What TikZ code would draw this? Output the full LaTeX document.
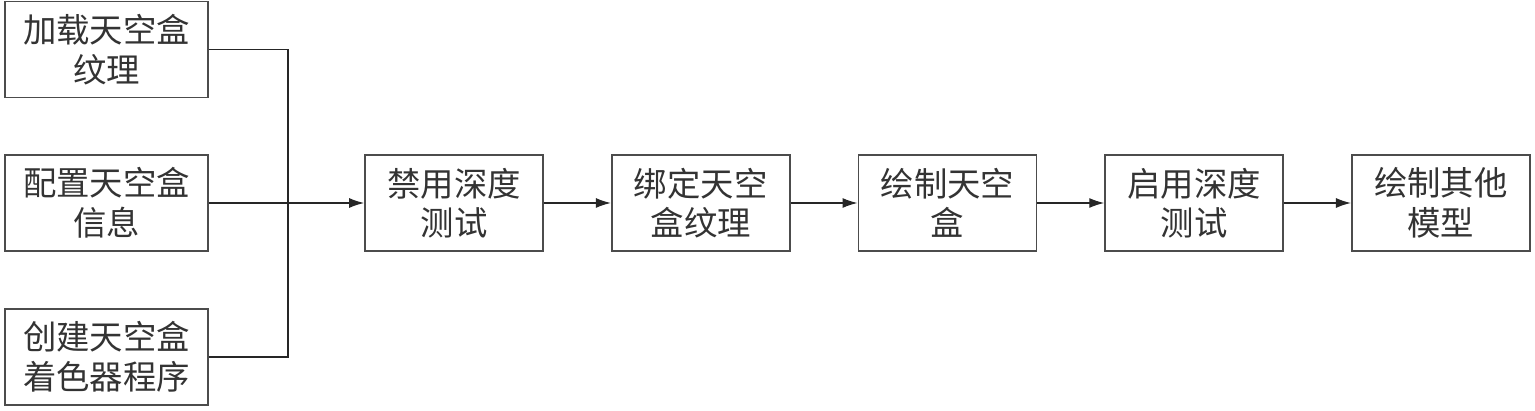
\documentclass[tikz,border=0pt]{standalone}
\usepackage{fontspec}
\setmainfont{Noto Sans CJK SC}
\usetikzlibrary{positioning,arrows.meta}
\tikzstyle{box} = [draw=black!70, line width=0.35mm, minimum width=3.56cm, minimum height=1.92cm, inner sep=0pt, align=center, font=\fontsize{19}{22.5}\selectfont, text=black!80]
\tikzstyle{sidebox} = [box, minimum width=4.06cm]
\tikzstyle{connector} = [line width=0.25mm, black!85]

\begin{document}
\begin{tikzpicture}[x=0.02cm, y=-0.02cm]
                \useasboundingbox (0,0) rectangle (1535,411);
                \node (load) [sidebox] at (106.5,49.5) {加载天空盒\\纹理};
                \node (config) [sidebox] at (106.5,203) {配置天空盒\\信息};
                \node (shader) [sidebox] at (106.5,357) {创建天空盒\\着色器程序};
                \node (nodepth) [box] at (454,203) {禁用深度\\测试};
                \node (bind) [box, right=1.34cm of nodepth] {绑定天空\\盒纹理};
                \node (drawsky) [box, right=1.34cm of bind] {绘制天空\\盒};
                \node (depth) [box, right=1.34cm of drawsky] {启用深度\\测试};
                \node (others) [box, right=1.34cm of depth] {绘制其他\\模型};
                \coordinate (join) at (288,203);

                \draw [connector] (load.east) -| (join);
                \draw [connector] (shader.east) -| (join);
                \draw [connector, -{Latex[length=3mm,width=2mm]}] (config) -- (nodepth);
                \draw [connector, -{Latex[length=3mm,width=2mm]}] (nodepth) -- (bind);
                \draw [connector, -{Latex[length=3mm,width=2mm]}] (bind) -- (drawsky);
                \draw [connector, -{Latex[length=3mm,width=2mm]}] (drawsky) -- (depth);
                \draw [connector, -{Latex[length=3mm,width=2mm]}] (depth) -- (others);
            \end{tikzpicture}
\end{document}
